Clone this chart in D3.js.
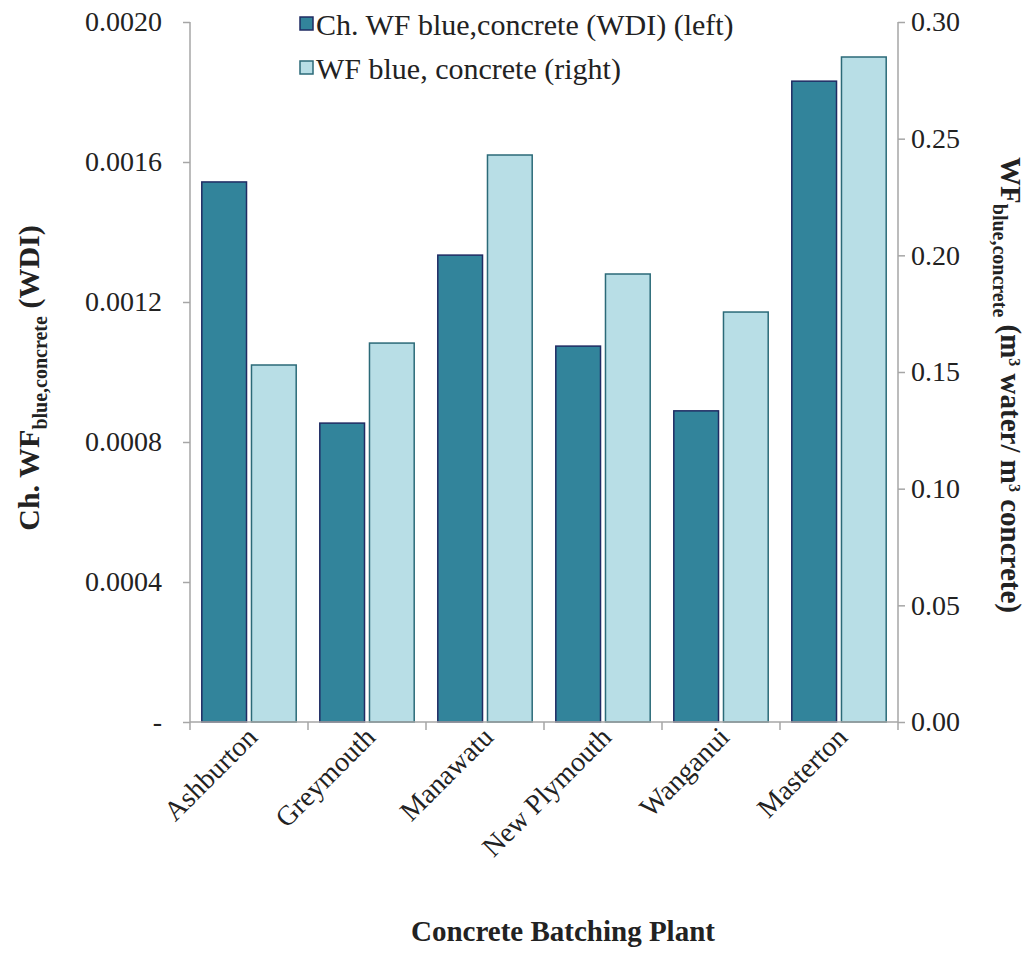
<!DOCTYPE html>
<html>
<head>
<meta charset="utf-8">
<script src="https://cdn.jsdelivr.net/npm/d3@7"></script>
<style>
  html, body { margin: 0; padding: 0; background: #fff; }
  svg text { font-family: "Liberation Serif", "Times New Roman", serif; fill: #222; }
</style>
</head>
<body>
<svg id="chart" width="1031" height="956"></svg>
<script>
const categories = ["Ashburton", "Greymouth", "Manawatu", "New Plymouth", "Wanganui", "Masterton"];
const chWDI = [0.001543, 0.000854, 0.001334, 0.001074, 0.000889, 0.001831];
const wfBlue = [0.153, 0.1624, 0.243, 0.192, 0.1757, 0.285];
const leftTicks = [0, 0.0004, 0.0008, 0.0012, 0.0016, 0.0020];
const leftTickLabels = ["-", "0.0004", "0.0008", "0.0012", "0.0016", "0.0020"];
const rightTicks = [0, 0.05, 0.10, 0.15, 0.20, 0.25, 0.30];
const seriesNames = ["Ch. WF blue,concrete (WDI) (left)", "WF blue, concrete (right)"];

const darkFill = "#32849b", darkStroke = "#1f2b63";
const lightFill = "#b8dee6", lightStroke = "#2b6a78";
const axisColor = "#a6a6a6";
const FS = 28;

const svg = d3.select("#chart");
const L = 190, R = 898, T = 22, B = 722;

const x = d3.scaleBand().domain(categories).range([L, R]).paddingInner(0.2).paddingOuter(0.1);
const xs = d3.scaleBand().domain([0, 1]).range([0, x.bandwidth()]).paddingInner(0.1).paddingOuter(0);
const yL = d3.scaleLinear().domain([0, 0.0020]).range([B, T]);
const yR = d3.scaleLinear().domain([0, 0.30]).range([B, T]);

// bars
const g = svg.append("g");
categories.forEach((c, i) => {
  g.append("rect")
    .attr("x", x(c) + xs(0)).attr("width", xs.bandwidth())
    .attr("y", yL(chWDI[i])).attr("height", B - yL(chWDI[i]))
    .attr("fill", darkFill).attr("stroke", darkStroke).attr("stroke-width", 1.5);
  g.append("rect")
    .attr("x", x(c) + xs(1)).attr("width", xs.bandwidth())
    .attr("y", yR(wfBlue[i])).attr("height", B - yR(wfBlue[i]))
    .attr("fill", lightFill).attr("stroke", lightStroke).attr("stroke-width", 1.5);
});

// left axis
const axL = svg.append("g").attr("transform", `translate(${L},0)`)
  .call(d3.axisLeft(yL).tickValues(leftTicks).tickSize(7).tickPadding(21)
    .tickFormat((d, i) => leftTickLabels[i]));
// right axis
const axR = svg.append("g").attr("transform", `translate(${R},0)`)
  .call(d3.axisRight(yR).tickValues(rightTicks).tickSize(7).tickPadding(6)
    .tickFormat(d3.format(".2f")));
[axL, axR].forEach(a => {
  a.select(".domain").attr("stroke", axisColor).attr("stroke-width", 1.5);
  a.selectAll(".tick line").attr("stroke", axisColor).attr("stroke-width", 1.5);
  a.selectAll(".tick text").attr("font-size", FS).attr("font-family", "Liberation Serif").attr("fill", "#222");
});
axL.select(".domain").attr("d", `M0,${T}V${B}`);
axR.select(".domain").attr("d", `M0,${T}V${B}`);

// x axis baseline and category boundary ticks
svg.append("line").attr("x1", L).attr("x2", R).attr("y1", B).attr("y2", B)
  .attr("stroke", axisColor).attr("stroke-width", 1.5);
d3.range(categories.length + 1).forEach(i => {
  const bx = x.range()[0] + i * x.step();
  svg.append("line").attr("x1", bx).attr("x2", bx).attr("y1", B).attr("y2", B + 8)
    .attr("stroke", axisColor).attr("stroke-width", 1.5);
});

// category labels
categories.forEach(c => {
  const cx = x(c) + x.bandwidth() / 2;
  svg.append("text")
    .attr("transform", `translate(${cx - 4},${B + 3}) rotate(-45)`)
    .attr("text-anchor", "end").attr("dy", "0.7em")
    .attr("font-size", FS).text(c);
});

// x title
svg.append("text").attr("x", 563).attr("y", 941).attr("text-anchor", "middle")
  .attr("font-size", 29).attr("font-weight", "bold").text("Concrete Batching Plant");

// left title
const lt = svg.append("text").attr("transform", `translate(39,${378}) rotate(-90)`)
  .attr("text-anchor", "middle").attr("font-size", 30).attr("font-weight", "bold");
lt.append("tspan").text("Ch. WF");
lt.append("tspan").attr("font-size", 20).attr("dy", 8).text("blue,concrete");
lt.append("tspan").attr("dy", -8).text(" (WDI)");

// right title
const rt = svg.append("text").attr("transform", `translate(1001,${385}) rotate(90)`)
  .attr("text-anchor", "middle").attr("font-size", 29).attr("font-weight", "bold");
rt.append("tspan").text("WF");
rt.append("tspan").attr("font-size", 20).attr("dy", 8).text("blue,concrete");
rt.append("tspan").attr("dy", -8).text(" (m");
rt.append("tspan").attr("font-size", 16).attr("dy", -8).text("3");
rt.append("tspan").attr("dy", 8).text(" water/ m");
rt.append("tspan").attr("font-size", 16).attr("dy", -8).text("3");
rt.append("tspan").attr("dy", 8).text(" concrete)");

// legend
const legend = svg.append("g");
const lgFill = [darkFill, lightFill], lgStroke = [darkStroke, lightStroke];
seriesNames.forEach((s, i) => {
  const ly = 24 + i * 44;
  legend.append("rect").attr("x", 300).attr("y", ly - 7).attr("width", 13).attr("height", 13)
    .attr("fill", lgFill[i]).attr("stroke", lgStroke[i]).attr("stroke-width", 1.5);
  legend.append("text").attr("x", 316).attr("y", ly).attr("dy", "0.35em")
    .attr("font-size", 30).text(s);
});
</script>
</body>
</html>
